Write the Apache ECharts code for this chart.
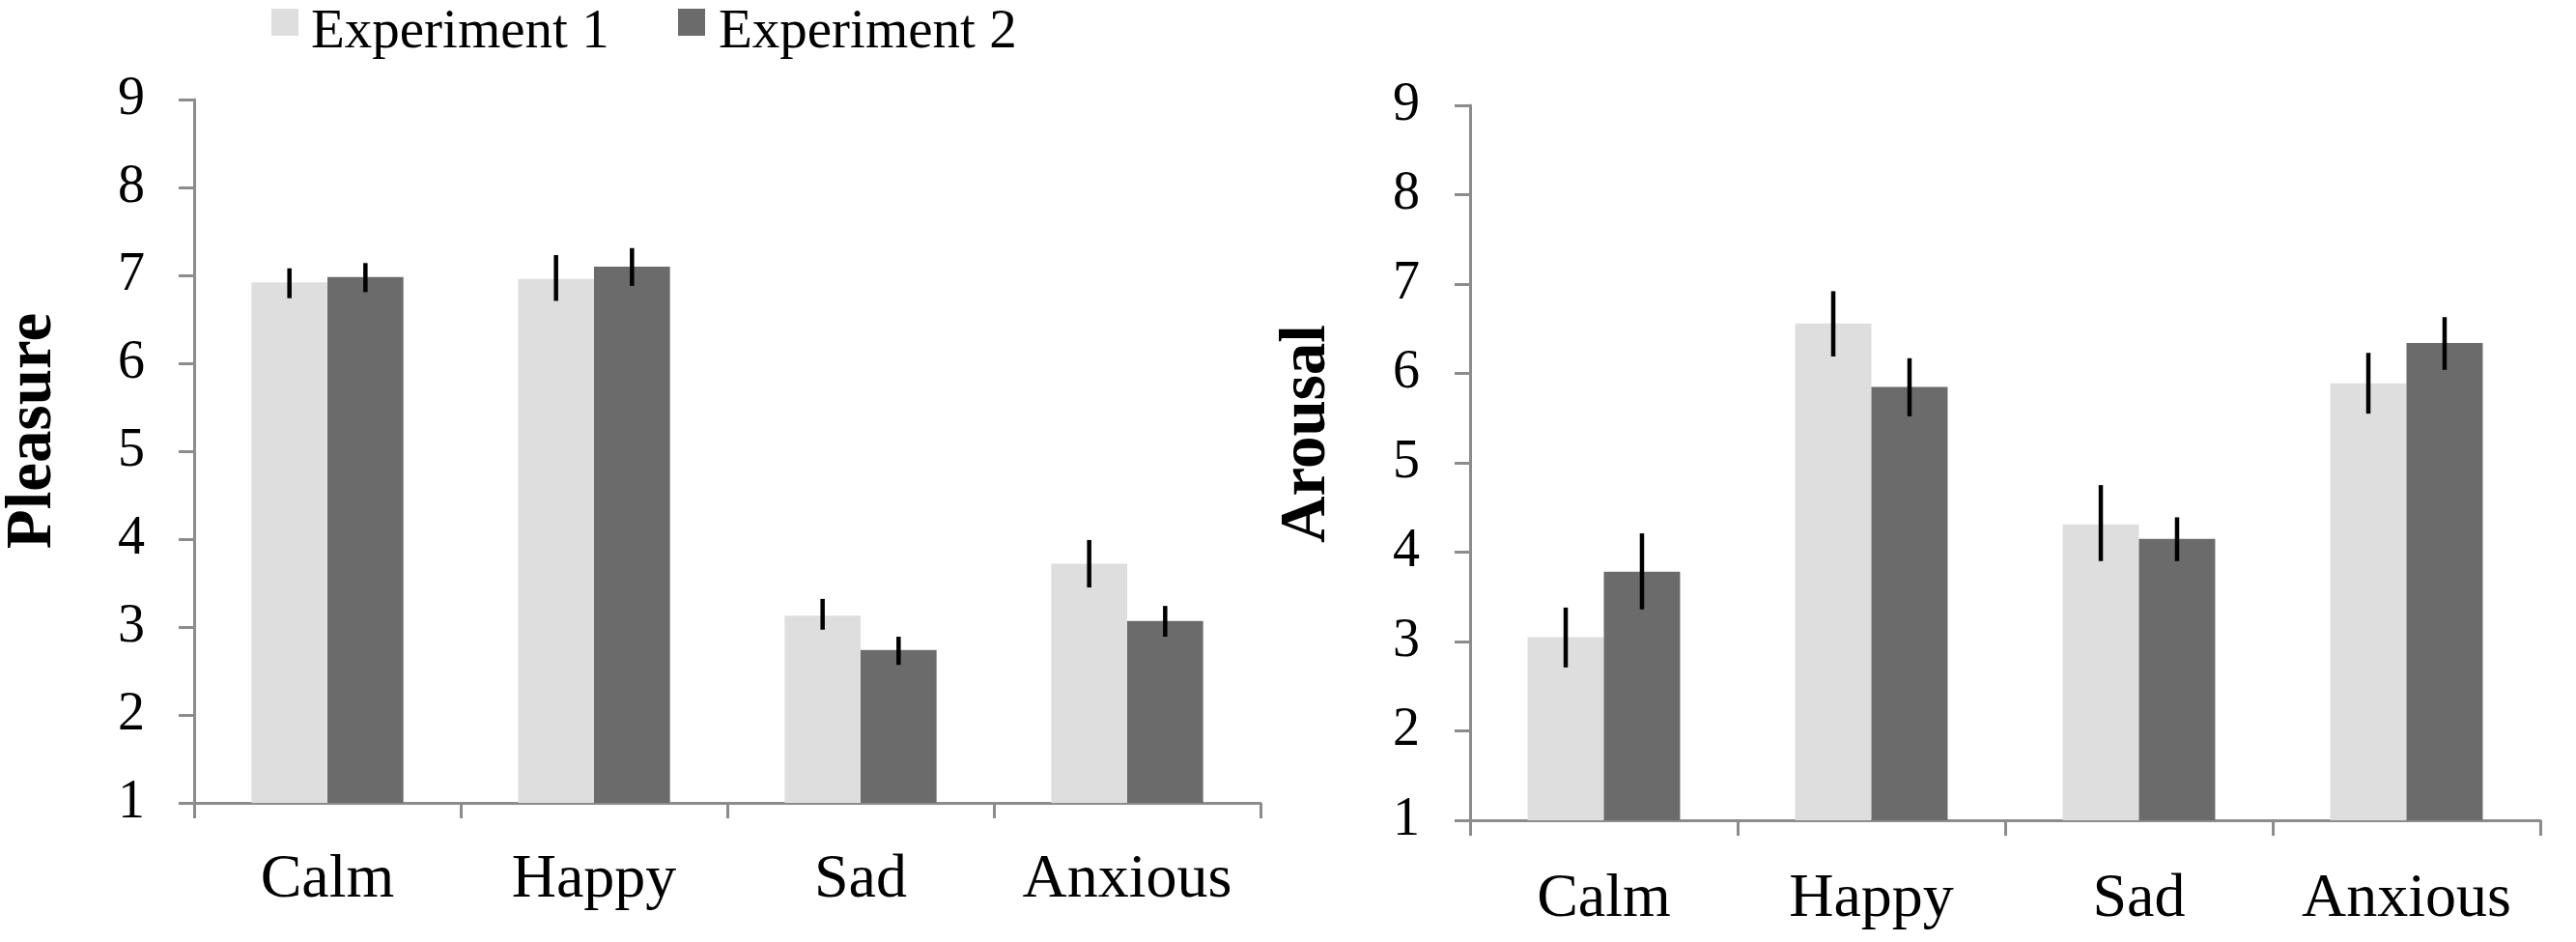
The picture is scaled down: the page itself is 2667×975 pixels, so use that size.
<!DOCTYPE html>
<html>
<head>
<meta charset="utf-8">
<script src="https://cdn.jsdelivr.net/npm/echarts@6/dist/echarts.min.js"></script>
<style>
html,body{margin:0;padding:0;background:#fff;}
#chart{width:2667px;height:975px;}
</style>
</head>
<body>
<div id="chart"></div>
<script>
var categories = ['Calm', 'Happy', 'Sad', 'Anxious'];
var seriesNames = ['Experiment 1', 'Experiment 2'];
var yTicks = [1, 9, 1]; // min, max, interval

var pleasureExp1 = [6.92, 6.96, 3.13, 3.72];
var pleasureExp2 = [6.98, 7.10, 2.74, 3.07];
var pleasureExp1Hi = [7.08, 7.23, 3.32, 3.99];
var pleasureExp1Lo = [6.74, 6.71, 2.97, 3.45];
var pleasureExp2Hi = [7.14, 7.31, 2.89, 3.24];
var pleasureExp2Lo = [6.81, 6.88, 2.57, 2.89];

var arousalExp1 = [3.05, 6.56, 4.31, 5.89];
var arousalExp2 = [3.78, 5.85, 4.15, 6.34];
var arousalExp1Hi = [3.38, 6.92, 4.75, 6.23];
var arousalExp1Lo = [2.71, 6.19, 3.90, 5.55];
var arousalExp2Hi = [4.21, 6.17, 4.39, 6.63];
var arousalExp2Lo = [3.36, 5.52, 3.90, 6.04];

var FONT = "'Liberation Serif', 'Times New Roman', serif";
var AXIS = '#8c8c8c';
var LIGHT = '#dedede';
var DARK = '#6b6b6b';
var BARW = 0.285;

function errData(hi, lo) {
  return categories.map(function (c, i) { return [i, hi[i], lo[i]]; });
}
function errSeries(grid, hi, lo, side) {
  return {
    type: 'custom', xAxisIndex: grid, yAxisIndex: grid, z: 5,
    data: errData(hi, lo),
    encode: { x: 0, y: [1, 2] },
    renderItem: function (params, api) {
      var i = api.value(0);
      var a = api.coord([i, api.value(1)]);
      var b = api.coord([i, api.value(2)]);
      var band = api.size([1, 0])[0];
      var off = side * band * BARW / 2;
      return {
        type: 'line',
        shape: { x1: a[0] + off, y1: a[1], x2: b[0] + off, y2: b[1] },
        style: { stroke: '#000', lineWidth: 4.5 }
      };
    },
    silent: true
  };
}
function xAx(grid, margin) {
  return {
    type: 'category', gridIndex: grid, data: categories,
    axisLine: { lineStyle: { color: AXIS, width: 3 } },
    axisTick: { show: true, length: 16, lineStyle: { color: AXIS, width: 3 } },
    axisLabel: { interval: 0, margin: margin, fontFamily: FONT, fontSize: 64, color: '#000' },
    splitLine: { show: false }
  };
}
function yAx(grid, name, gap, shift, margin) {
  return {
    type: 'value', gridIndex: grid, min: yTicks[0], max: yTicks[1], interval: yTicks[2],
    name: name, nameLocation: 'middle', nameRotate: 90, nameGap: gap,
    nameTextStyle: { fontFamily: FONT, fontSize: 67, fontWeight: 'bold', color: '#000', padding: [0, 0, 0, shift] },
    axisLine: { show: true, lineStyle: { color: AXIS, width: 3 } },
    axisTick: { show: true, length: 16, lineStyle: { color: AXIS, width: 3 } },
    axisLabel: { margin: margin, fontFamily: FONT, fontSize: 56, color: '#000', padding: [10, 0, 0, 0] },
    splitLine: { show: false }
  };
}
function barSeries(name, grid, data, color) {
  return {
    type: 'bar', name: name, xAxisIndex: grid, yAxisIndex: grid,
    data: data, barWidth: (BARW * 100) + '%', barGap: '0%',
    itemStyle: { color: color }, silent: true
  };
}
function legendIcon(name, left) {
  return { data: [name], left: left, top: 9, padding: 0, icon: 'rect', itemWidth: 28, itemHeight: 28,
    selectedMode: false, formatter: function () { return ''; }, textStyle: { fontSize: 1 } };
}
function legendText(name, left) {
  return { data: [name], left: left, top: 6, padding: 0, icon: 'rect', itemWidth: 0, itemHeight: 0,
    selectedMode: false, itemStyle: { opacity: 0 },
    textStyle: { fontFamily: FONT, fontSize: 57, color: '#000' } };
}

var chart = echarts.init(document.getElementById('chart'), null, { renderer: 'canvas' });
chart.setOption({
  animation: false,
  backgroundColor: '#fff',
  legend: [
    legendIcon(seriesNames[0], 281),
    legendText(seriesNames[0], 317),
    legendIcon(seriesNames[1], 702),
    legendText(seriesNames[1], 739)
  ],
  grid: [
    { left: 199, right: 2667 - 1305, top: 103, bottom: 975 - 831 },
    { left: 1522, right: 2667 - 2630, top: 109, bottom: 975 - 849 }
  ],
  xAxis: [xAx(0, 48), xAx(1, 50)],
  yAxis: [yAx(0, 'Pleasure', 133, 42, 51), yAx(1, 'Arousal', 135, 60, 52)],
  series: [
    barSeries(seriesNames[0], 0, pleasureExp1, LIGHT),
    barSeries(seriesNames[1], 0, pleasureExp2, DARK),
    barSeries(seriesNames[0], 1, arousalExp1, LIGHT),
    barSeries(seriesNames[1], 1, arousalExp2, DARK),
    errSeries(0, pleasureExp1Hi, pleasureExp1Lo, -1),
    errSeries(0, pleasureExp2Hi, pleasureExp2Lo, 1),
    errSeries(1, arousalExp1Hi, arousalExp1Lo, -1),
    errSeries(1, arousalExp2Hi, arousalExp2Lo, 1)
  ]
});
</script>
</body>
</html>
